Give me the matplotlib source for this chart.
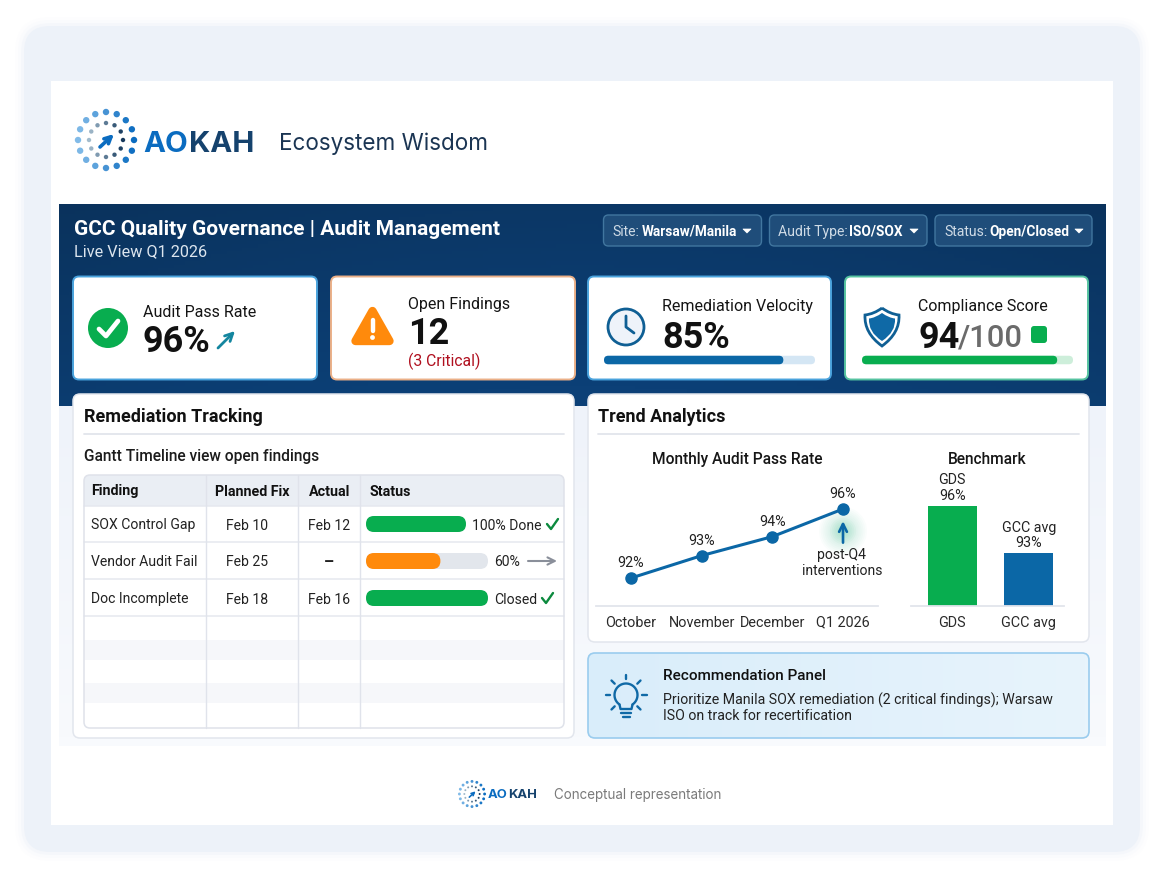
import numpy as np
import matplotlib
matplotlib.use("Agg")
import matplotlib.pyplot as plt
from matplotlib.patches import FancyBboxPatch, Circle, Polygon, PathPatch, Rectangle
from matplotlib.path import Path

# table
findings = ["SOX Control Gap", "Vendor Audit Fail", "Doc Incomplete"]
planned = ["Feb 10", "Feb 25", "Feb 18"]
actual = ["Feb 12", "–", "Feb 16"]
status_pct = [100, 61, 100]
status_text = ["100% Done", "60%", "Closed"]
headers = ["Finding", "Planned Fix", "Actual", "Status"]

# trend charts
months = ["October", "November", "December", "Q1 2026"]
pass_rate = [92, 93.3, 94.4, 96]
bench_names = ["GDS", "GCC avg"]
bench_values = [96, 93]

# progress in the kpi cards
velocity_pct = 85
compliance_pct = 92.5

BLUE = "#0b67a6"
GREEN = "#08ad4f"
ORANGE = "#ff8a0c"
INK = "#141414"

plt.rcParams["font.family"] = ["Roboto", "DejaVu Sans"]

fig = plt.figure(figsize=(11.65, 8.82), dpi=100, facecolor="white")
ax = fig.add_axes([0, 0, 1, 1])
ax.axis("off")


def px(size):
    return size * 0.72


def rbox(x0, y0, x1, y1, r, fc, ec="none", lw=0, z=1, alpha=None):
    p = FancyBboxPatch((x0, y0), x1 - x0, y1 - y0, boxstyle=f"round,pad=0,rounding_size={r}",
                       fc=fc, ec=ec, lw=lw, zorder=z, alpha=alpha)
    ax.add_patch(p)
    return p


def txt(x, y, s, size=15, color=INK, weight="normal", ha="left", family=None, z=10):
    kw = {}
    if family:
        kw["family"] = family
    ax.text(x, y, s, fontsize=px(size), color=color, fontweight=weight, ha=ha,
            va="center_baseline", zorder=z, **kw)


def line(xs, ys, color, lw=1.0, z=5):
    ax.plot(xs, ys, color=color, lw=lw, solid_capstyle="round", solid_joinstyle="round", zorder=z)


def arrow(x0, y0, x1, y1, color, lw=2.0, z=8, size=12):
    ax.annotate("", xy=(x1, y1), xytext=(x0, y0), zorder=z,
                arrowprops=dict(arrowstyle="->", color=color, lw=lw, mutation_scale=size,
                                shrinkA=0, shrinkB=0))


def mix(c1, c2, t):
    a = np.array(matplotlib.colors.to_rgb(c1))
    b = np.array(matplotlib.colors.to_rgb(c2))
    return tuple(a + (b - a) * t)


def logo(cx, cy, k):
    for i in range(16):
        a = 2 * np.pi * i / 16
        t = (np.cos(a) + 1) / 2
        ax.add_patch(Circle((cx + 28 * k * np.cos(a), cy + 28 * k * np.sin(a)), 3.2 * k,
                            fc=mix("#82bbe8", "#0b6cc0", t), ec="none", zorder=6))
    for i in range(12):
        a = 2 * np.pi * i / 12
        t = (np.cos(a) + 1) / 2
        ax.add_patch(Circle((cx + 17 * k * np.cos(a), cy + 17 * k * np.sin(a)), 2.2 * k,
                            fc=mix("#a3bccd", "#16395c", t), ec="none", zorder=6))
    arrow(cx - 6 * k, cy + 7 * k, cx + 8 * k, cy - 6 * k, "#0b6cc0", lw=2.6 * k, size=12 * k)


def progress(x0, x1, y, h, pct, color, track):
    if track:
        rbox(x0, y - h / 2, x1, y + h / 2, h / 2, track, z=4)
    rbox(x0, y - h / 2, x0 + (x1 - x0) * pct / 100, y + h / 2, h / 2, color, z=5)


# outer frame, soft edge
for grow, al in [(9, 0.08), (6, 0.14), (3, 0.25)]:
    rbox(24 - grow, 26 - grow, 1140 + grow, 852 + grow, 26 + grow, "#e9eff8", z=0, alpha=al)
rbox(24, 26, 1140, 852, 26, "#edf2f9", z=0.5)
ax.add_patch(Rectangle((51, 81), 1062, 744, fc="white", ec="none", zorder=0.6))

# top brand row
logo(106, 140, 1.0)
txt(143, 141, "AO", 29.5, "#0b6cc0", "bold", family="Inter")
txt(189, 141, "KAH", 29.5, "#15426d", "bold", family="Inter")
txt(279, 141, "Ecosystem Wisdom", 22.5, "#1b3553", family="Inter")

# dashboard background
h, w = 60, 200
gx, gy = np.meshgrid(np.linspace(0, 1, w), np.linspace(0, 1, h))
mixv = np.clip(0.25 + 0.55 * gy + 0.25 * np.sin(np.pi * gx), 0, 1)[..., None]
grad = np.array(matplotlib.colors.to_rgb("#0a2e54")) * (1 - mixv) + np.array(matplotlib.colors.to_rgb("#0c4077")) * mixv
ax.imshow(grad, extent=(59, 1106, 406, 204), aspect="auto", zorder=0.7)
fade = np.linspace(0, 1, 40)[:, None, None]
lower = np.array(matplotlib.colors.to_rgb("#eff3fa")) * (1 - fade) + np.array(matplotlib.colors.to_rgb("#f8fafd")) * fade
ax.imshow(lower, extent=(59, 1106, 746, 406), aspect="auto", zorder=0.7)
ax.set_xlim(0, 1165)
ax.set_ylim(882, 0)

txt(74, 227.5, "GCC Quality Governance | Audit Management", 20.9, "white", "bold")
txt(74, 250.5, "Live View Q1 2026", 16.2, "#dce5ee")

# filter dropdowns
filters = [(603.5, 761.5, 612, "Site:", 642, "Warsaw/Manila", 747),
           (769.5, 927, 778.5, "Audit Type:", 849, "ISO/SOX", 914),
           (935, 1092, 944, "Status:", 989, "Open/Closed", 1079)]
for x0, x1, tx, lab, bx, val, cx in filters:
    rbox(x0, 215, x1, 246, 5, "#1f4d7a", ec="#41769f", lw=1, z=2)
    txt(tx, 230.5, lab, 14, "#cfdbe6")
    txt(bx, 230.5, val, 13.6, "white", "bold")
    ax.add_patch(Polygon([(cx - 4, 229), (cx + 4, 229), (cx, 233)], fc="white", ec="white",
                         lw=0.5, joinstyle="round", zorder=6))

# kpi cards
cards = [(73, 317, "#4aa3dd"), (331, 575, "#ebb088"), (588, 831, "#4aa3dd"), (845, 1088, "#56c3a0")]
for x0, x1, col in cards:
    rbox(x0, 276.5, x1, 379.5, 6, "white", ec=col, lw=1.4, z=2)

ax.add_patch(Circle((108, 328), 20, fc=GREEN, ec="none", zorder=4))
line([99, 106, 118], [329, 336, 321], "white", 3.4)
txt(143, 311, "Audit Pass Rate", 16)
txt(143, 338, "96%", 36, "#111111", "bold")
arrow(218, 348, 235, 331, "#14869f", lw=2.0, size=14)

ax.add_patch(Polygon([(372.5, 311), (389.5, 341), (355.5, 341)], fc=ORANGE, ec=ORANGE, lw=6,
                     joinstyle="round", zorder=4))
line([372.5, 372.5], [320, 331], "white", 3.2)
ax.add_patch(Circle((372.5, 337.5), 2.4, fc="white", ec="none", zorder=5))
txt(408, 303, "Open Findings", 16)
txt(408, 330.5, "12", 36, "#111111", "bold")
txt(408, 359.5, "(3 Critical)", 15.7, "#b0101f")

ax.add_patch(Circle((626, 327), 18, fc="#eef3fa", ec="#0f5f94", lw=2.0, zorder=4))
line([626, 626, 634], [316, 327, 333], "#0f5f94", 2.0)
txt(662, 305.5, "Remediation Velocity", 16)
txt(662, 333.5, "85%", 36, "#111111", "bold")
progress(604, 815, 360, 8.5, velocity_pct, BLUE, "#d4e6f4")

outer_path = Path(
    [(882, 308), (890, 314), (899, 315), (900, 333), (882, 346), (864, 333), (865, 315), (874, 314), (882, 308)],
    [Path.MOVETO, Path.CURVE3, Path.CURVE3, Path.CURVE3, Path.CURVE3, Path.CURVE3, Path.CURVE3, Path.CURVE3, Path.CURVE3])
ax.add_patch(PathPatch(outer_path, fc="white", ec="#0f5f94", lw=2.0, zorder=4))
inner_path = Path(
    [(882, 313), (889, 318), (895, 318.5), (896, 332), (882, 341), (868, 332), (869, 318.5), (875, 318), (882, 313)],
    outer_path.codes)
ax.add_patch(PathPatch(inner_path, fc="#0f69a6", ec="none", zorder=5))
txt(918, 305.5, "Compliance Score", 16)
txt(918, 333.5, "94", 36, "#111111", "bold")
txt(958, 335, "/100", 31, "#6b6b6b", "medium")
rbox(1031, 326, 1047, 343, 3, GREEN, z=4)
progress(862, 1073, 360, 8.5, compliance_pct, GREEN, "#cdeeda")

# left panel
rbox(73, 394, 574, 738, 7, "white", ec="#e2e6ed", lw=1.1, z=2)
txt(84, 415, "Remediation Tracking", 18, "#111111", "bold")
line([84, 564], [434, 434], "#e2e5ec", 1.3)
txt(84, 455, "Gantt Timeline view open findings", 15.5, "#1c1c1c", "medium")

rbox(84, 475, 564, 728, 6, "white", z=3)
rbox(84, 475, 564, 500, 6, "#eaeef4", z=3.1)
ax.add_patch(Rectangle((84, 482), 480, 23.5, fc="#eaeef4", ec="none", zorder=3.1))
for y0, y1 in [(640, 660), (683, 703)]:
    ax.add_patch(Rectangle((84, y0), 480, y1 - y0, fc="#f6f7fa", ec="none", zorder=3.2))
for y in [505.5, 542, 579, 615.5]:
    line([84, 564], [y, y], "#e5e8ef", 1.1, z=3.5)
for x in [205.5, 298, 360]:
    line([x, x], [475, 728], "#e0e3eb", 1.0, z=3.5)
rbox(84, 475, 564, 728, 6, "none", ec="#dfe2ea", lw=1.1, z=3.6)

for x, s in zip([91, 215, 309, 369], headers):
    txt(x, 490, s, 14.3, "#111111", "bold")

row_y = [524, 561, 598]
track_end = [466, 488, 488]
bar_cols = [GREEN, ORANGE, GREEN]
for i in range(len(findings)):
    y = row_y[i]
    txt(91, y, findings[i], 14, "#222222")
    txt(226, y, planned[i], 14, "#222222")
    if actual[i] == "–":
        txt(329, y, actual[i], 16, "#222222", "bold", ha="center")
    else:
        txt(308, y, actual[i], 14, "#222222")
    # first row bar is shorter, no track shows behind a full bar
    progress(366, track_end[i], y, 16, status_pct[i], bar_cols[i], "#e2e6ec")
    txt(472 if i == 0 else 494, y, status_text[i], 14, "#222222")
line([547, 551, 558], [524, 529, 519], "#0c8a3e", 1.7)
arrow(528, 561, 557, 561, "#8a8f9a", lw=1.5, size=13)
line([542, 546, 553], [598, 603, 593], "#0c8a3e", 1.7)

# right panel
rbox(588, 394, 1089, 642, 7, "white", ec="#e2e6ed", lw=1.1, z=2)
txt(598, 415, "Trend Analytics", 18, "#111111", "bold")
line([598, 1079], [434, 434], "#e2e5ec", 1.3)
txt(737, 458, "Monthly Audit Pass Rate", 15.5, "#161616", "medium", ha="center")
txt(987, 458, "Benchmark", 15.5, "#161616", "medium", ha="center")


def sub_axes(x0, x1, y0, y1):
    a = fig.add_axes([x0 / 1165, 1 - y1 / 882, (x1 - x0) / 1165, (y1 - y0) / 882])
    a.patch.set_alpha(0)
    a.set_zorder(5)
    for s in ["top", "left", "right"]:
        a.spines[s].set_visible(False)
    a.spines["bottom"].set_color("#e2e5ec")
    a.spines["bottom"].set_linewidth(1.3)
    a.set_yticks([])
    a.tick_params(axis="x", length=0, pad=7, labelsize=px(14.4), labelcolor="#2a2a2a")
    return a


lax = sub_axes(596, 878, 470, 606)
xs = np.arange(len(months))
lax.plot(xs, pass_rate, color=BLUE, lw=2.2, marker="o", ms=8, mfc=BLUE, mec=BLUE)
lax.set_xlim(-0.495, 3.495)
lax.set_ylim(90.38, 98.26)
lax.set_xticks(xs)
lax.set_xticklabels(months)
for i, v in enumerate(pass_rate):
    lax.annotate(f"{v:.0f}%", (xs[i], v), xytext=(0, 10.5), textcoords="offset points",
                 ha="center", va="center", fontsize=px(14.2), color="#222222")

# glow behind the callout arrow
for r, al in zip(np.linspace(24, 4, 12), [0.025] * 6 + [0.05] * 6):
    ax.add_patch(Circle((843, 531), r, fc="#36c48a", ec="none", alpha=al, zorder=3))
lax.annotate("", xy=(3, 95.3), xytext=(3, 94.05),
             arrowprops=dict(arrowstyle="->", color=BLUE, lw=1.9, mutation_scale=14,
                             shrinkA=0, shrinkB=0))
txt(842, 554, "post-Q4", 14, "#222222", ha="center")
txt(842, 569.5, "interventions", 14, "#222222", ha="center")

bax = sub_axes(911, 1064, 470, 606)
bx = np.arange(len(bench_names))
bax.bar(bx, bench_values, width=0.635, color=[GREEN, BLUE])
bax.set_xlim(-0.54, 1.462)
bax.set_ylim(89.67, 98.26)
bax.set_xticks(bx)
bax.set_xticklabels(bench_names)
for i, v in enumerate(bench_values):
    bax.annotate(f"{bench_names[i]}\n{v}%", (bx[i], v), xytext=(0, 2.2), textcoords="offset points",
                 ha="center", va="bottom", fontsize=px(14.2), color="#222222", linespacing=1.15)

# recommendation panel
fade2 = np.linspace(0, 1, 120)[None, :, None]
rec = np.array(matplotlib.colors.to_rgb("#d9edfa")) * (1 - fade2) + np.array(matplotlib.colors.to_rgb("#e8f4fc")) * fade2
im = ax.imshow(rec, extent=(588, 1089, 738, 653), aspect="auto", zorder=2)
im.set_clip_path(rbox(588, 653, 1089, 738, 7, "none", ec="#9accee", lw=1.2, z=2.5))
ax.set_xlim(0, 1165)
ax.set_ylim(882, 0)

bulb = "#0f69a6"
t = np.linspace(np.radians(125), np.radians(415), 40)
line(626 + 11.5 * np.cos(t), 695 + 11.5 * np.sin(t), bulb, 1.7)
line([619.5, 620.5, 631.5, 632.5], [704.5, 709, 709, 704.5], bulb, 1.7)
line([621, 631], [712.5, 712.5], bulb, 1.7)
line([622.5, 629.5], [716.5, 716.5], bulb, 1.7)
for a in [0, 45, 90, 135, 180, 225, 315]:
    ca, sa = np.cos(np.radians(a)), np.sin(np.radians(a))
    line([626 + 16 * ca, 626 + 20.5 * ca], [695 - 16 * sa, 695 - 20.5 * sa], bulb, 1.7)
txt(663, 675, "Recommendation Panel", 15.3, "#111111", "medium")
txt(663, 699, "Prioritize Manila SOX remediation (2 critical findings); Warsaw", 14.1, "#222222")
txt(663, 714.5, "ISO on track for recertification", 14.1, "#222222")

# footer
logo(472, 794, 0.45)
txt(488, 794, "AO", 13, "#0b6cc0", "bold", family="Inter")
txt(508, 794, "KAH", 13, "#15426d", "bold", family="Inter")
txt(554, 794, "Conceptual representation", 13.4, "#7a7a7a", family="Inter")

fig.savefig("out.png", dpi=100)
